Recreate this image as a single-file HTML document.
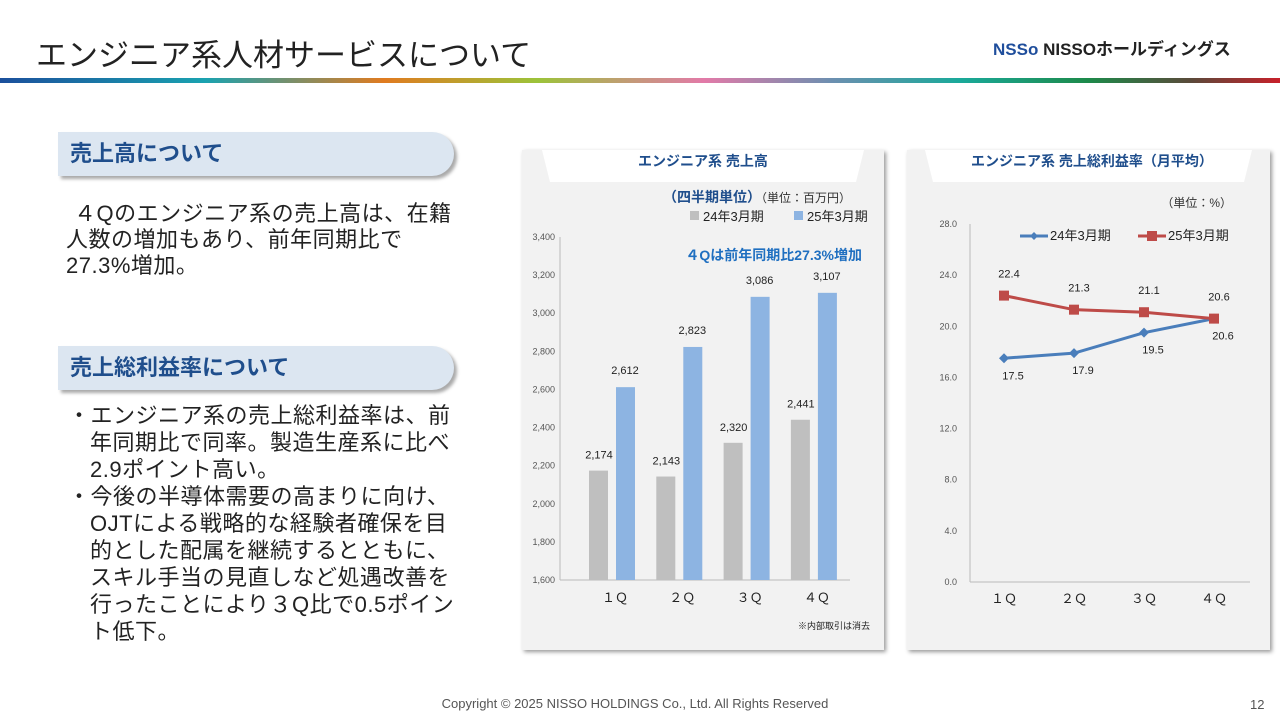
<!DOCTYPE html>
<html><head><meta charset="utf-8">
<style>
body{margin:0;width:1280px;height:721px;background:#fff;position:relative;overflow:hidden;font-family:"Liberation Sans","Noto Sans CJK JP",sans-serif;}
.abs{position:absolute;}
.hdr{left:36px;top:30px;font-size:31px;color:#222;}
.bar{left:0;top:78px;width:1280px;height:5px;background:linear-gradient(90deg,#1b4f9c 0%,#1aa2b0 16%,#e07b20 30%,#9cc33a 42%,#e27aa8 55%,#6c8fb0 65%,#1aa99a 75%,#1d8a4a 85%,#5a4a3a 93%,#c8202a 100%);}
.pill{background:#dce6f1;color:#1f4e8c;font-weight:bold;font-size:22px;padding-left:12px;line-height:44px;height:44px;border-radius:0 22px 22px 0;box-shadow:3px 3px 3px #aaa;}
.txt{font-size:22px;letter-spacing:0.5px;color:#222;line-height:26px;}
.panel{background:#f2f2f2;box-shadow:2px 2px 4px #999;}
</style></head><body>
<div class="abs hdr">エンジニア系人材サービスについて</div>
<div class="abs" style="left:993px;top:35px;font-size:17px;font-weight:bold;color:#222;"><span style="color:#1f4e9c">NSSo</span> NISSOホールディングス</div>
<div class="abs bar"></div>

<div class="abs pill" style="left:58px;top:132px;width:384px;">売上高について</div>
<div class="abs txt" style="left:66px;top:201px;width:396px;text-indent:8px;">４Qのエンジニア系の売上高は、在籍人数の増加もあり、前年同期比で<br>27.3%増加。</div>
<div class="abs pill" style="left:58px;top:346px;width:384px;">売上総利益率について</div>
<div class="abs txt" style="left:68px;top:402px;width:392px;line-height:27px;">
<div style="padding-left:22px;text-indent:-22px">・エンジニア系の売上総利益率は、前年同期比で同率。製造生産系に比べ2.9ポイント高い。</div>
<div style="padding-left:22px;text-indent:-22px">・今後の半導体需要の高まりに向け、OJTによる戦略的な経験者確保を目的とした配属を継続するとともに、スキル手当の見直しなど処遇改善を行ったことにより３Q比で0.5ポイント低下。</div></div>

<div class="abs panel" style="left:522px;top:150px;width:362px;height:500px;"></div>
<div class="abs panel" style="left:907px;top:150px;width:363px;height:500px;"></div>
<svg class="abs" style="left:0;top:0" width="1280" height="721" id="sv">
<polygon points="542,150 864,150 856,182 550,182" fill="#fff"/>
<polygon points="925,150 1252,150 1244,182 933,182" fill="#fff"/>
<g font-family="Liberation Sans,Noto Sans CJK JP,sans-serif">
<text x="703" y="166" text-anchor="middle" font-size="14" font-weight="bold" fill="#1f4e8c">エンジニア系 売上高</text>
<text x="1092" y="166" text-anchor="middle" font-size="14" font-weight="bold" fill="#1f4e8c">エンジニア系 売上総利益率（月平均）</text>
<text x="663" y="202" font-size="14" font-weight="bold" fill="#1f4e8c">（四半期単位）<tspan font-weight="normal" font-size="12" fill="#333">（単位：百万円）</tspan></text>
<rect x="690" y="211" width="9" height="9" fill="#bfbfbf"/><text x="703" y="221" font-size="13" fill="#222">24年3月期</text>
<rect x="794" y="211" width="9" height="9" fill="#8db4e2"/><text x="807" y="221" font-size="13" fill="#222">25年3月期</text>
<text x="862" y="260" text-anchor="end" font-size="14" font-weight="bold" fill="#1f6fc0">４Qは前年同期比27.3%増加</text>
<text x="870" y="629" text-anchor="end" font-size="9" fill="#222">※内部取引は消去</text>
<text x="1232" y="207" text-anchor="end" font-size="12" fill="#333">（単位：%）</text>
</g>
<g id="g1"></g><g id="g2"></g>
</svg>
<div class="abs" style="left:0;width:1270px;text-align:center;top:696px;font-size:13px;color:#555;">Copyright © 2025 NISSO HOLDINGS Co., Ltd. All Rights Reserved</div>
<div class="abs" style="left:1250px;top:697px;font-size:13px;color:#555;">12</div>
<script>
const categories=["1Q","2Q","3Q","4Q"];
const sales24=[2174,2143,2320,2441];
const sales25=[2612,2823,3086,3107];
const salesTicks=[1600,1800,2000,2200,2400,2600,2800,3000,3200,3400];
const margin24=[17.5,17.9,19.5,20.6];
const margin25=[22.4,21.3,21.1,20.6];
const marginTicks=[0,4,8,12,16,20,24,28];
const NS="http://www.w3.org/2000/svg";
function mk(p,t,a,txt){const e=document.createElementNS(NS,t);for(const k in a)e.setAttribute(k,a[k]);if(txt!=null)e.textContent=txt;p.appendChild(e);return e;}
const fw=["１Ｑ","２Ｑ","３Ｑ","４Ｑ"];
const g1=document.getElementById('g1');
const y1=v=>580-(v-1600)*(343/1800);
const x1=i=>615+i*67.3;
mk(g1,'line',{x1:560,y1:237,x2:560,y2:580,stroke:'#bbb'});
mk(g1,'line',{x1:560,y1:580,x2:850,y2:580,stroke:'#bbb'});
salesTicks.forEach(t=>{const e=mk(g1,'text',{x:555,y:y1(t)+3,'text-anchor':'end','font-size':9,fill:'#555','font-family':'Liberation Sans'},t.toLocaleString('en-US'));

});
categories.forEach((c,i)=>{
 const r1=mk(g1,'rect',{x:x1(i)-26,y:y1(sales24[i]),width:19,height:580-y1(sales24[i]),fill:'#bfbfbf'});
 
 
 const r2=mk(g1,'rect',{x:x1(i)+1,y:y1(sales25[i]),width:19,height:580-y1(sales25[i]),fill:'#8db4e2'});
 
 
 mk(g1,'text',{x:x1(i)-16,y:y1(sales24[i])-12,'text-anchor':'middle','font-size':11,fill:'#222','font-family':'Liberation Sans'},sales24[i].toLocaleString('en-US'));
 mk(g1,'text',{x:x1(i)+10,y:y1(sales25[i])-13,'text-anchor':'middle','font-size':11,fill:'#222','font-family':'Liberation Sans'},sales25[i].toLocaleString('en-US'));
 mk(g1,'text',{x:x1(i),y:602,'text-anchor':'middle','font-size':13,fill:'#222','font-family':'Liberation Sans,Noto Sans CJK JP'},fw[i]);
});
const g2=document.getElementById('g2');
const y2=v=>582-v*(358/28);
const x2=i=>1004+i*70;
mk(g2,'line',{x1:970,y1:224,x2:970,y2:582,stroke:'#bbb'});
mk(g2,'line',{x1:970,y1:582,x2:1250,y2:582,stroke:'#bbb'});
marginTicks.forEach(t=>{const e=mk(g2,'text',{x:957,y:y2(t)+3,'text-anchor':'end','font-size':9,fill:'#555','font-family':'Liberation Sans'},t.toFixed(1));

});
const l1=mk(g2,'polyline',{points:margin24.map((v,i)=>x2(i)+','+y2(v)).join(' '),fill:'none',stroke:'#4a7ebb','stroke-width':3});


const l2=mk(g2,'polyline',{points:margin25.map((v,i)=>x2(i)+','+y2(v)).join(' '),fill:'none',stroke:'#be4b48','stroke-width':3});


categories.forEach((c,i)=>{
 const X=x2(i),A=y2(margin24[i]),B=y2(margin25[i]);
 mk(g2,'polygon',{points:`${X},${A-5} ${X+5},${A} ${X},${A+5} ${X-5},${A}`,fill:'#4a7ebb'});
 mk(g2,'rect',{x:X-5,y:B-5,width:10,height:10,fill:'#be4b48'});
 mk(g2,'text',{x:X+9,y:A+21,'text-anchor':'middle','font-size':11,fill:'#222','font-family':'Liberation Sans'},margin24[i].toFixed(1));
 mk(g2,'text',{x:X+5,y:B-18,'text-anchor':'middle','font-size':11,fill:'#222','font-family':'Liberation Sans'},margin25[i].toFixed(1));
 mk(g2,'text',{x:X,y:603,'text-anchor':'middle','font-size':13,fill:'#222','font-family':'Liberation Sans,Noto Sans CJK JP'},fw[i]);
});
mk(g2,'line',{x1:1020,y1:236,x2:1048,y2:236,stroke:'#4a7ebb','stroke-width':3});
mk(g2,'polygon',{points:'1034,232 1038,236 1034,240 1030,236',fill:'#4a7ebb'});
mk(g2,'text',{x:1050,y:240,'font-size':13,fill:'#222','font-family':'Liberation Sans,Noto Sans CJK JP'},'24年3月期');
mk(g2,'line',{x1:1138,y1:236,x2:1166,y2:236,stroke:'#be4b48','stroke-width':3});
mk(g2,'rect',{x:1147,y:231,width:10,height:10,fill:'#be4b48'});
mk(g2,'text',{x:1168,y:240,'font-size':13,fill:'#222','font-family':'Liberation Sans,Noto Sans CJK JP'},'25年3月期');
</script>
</body></html>
